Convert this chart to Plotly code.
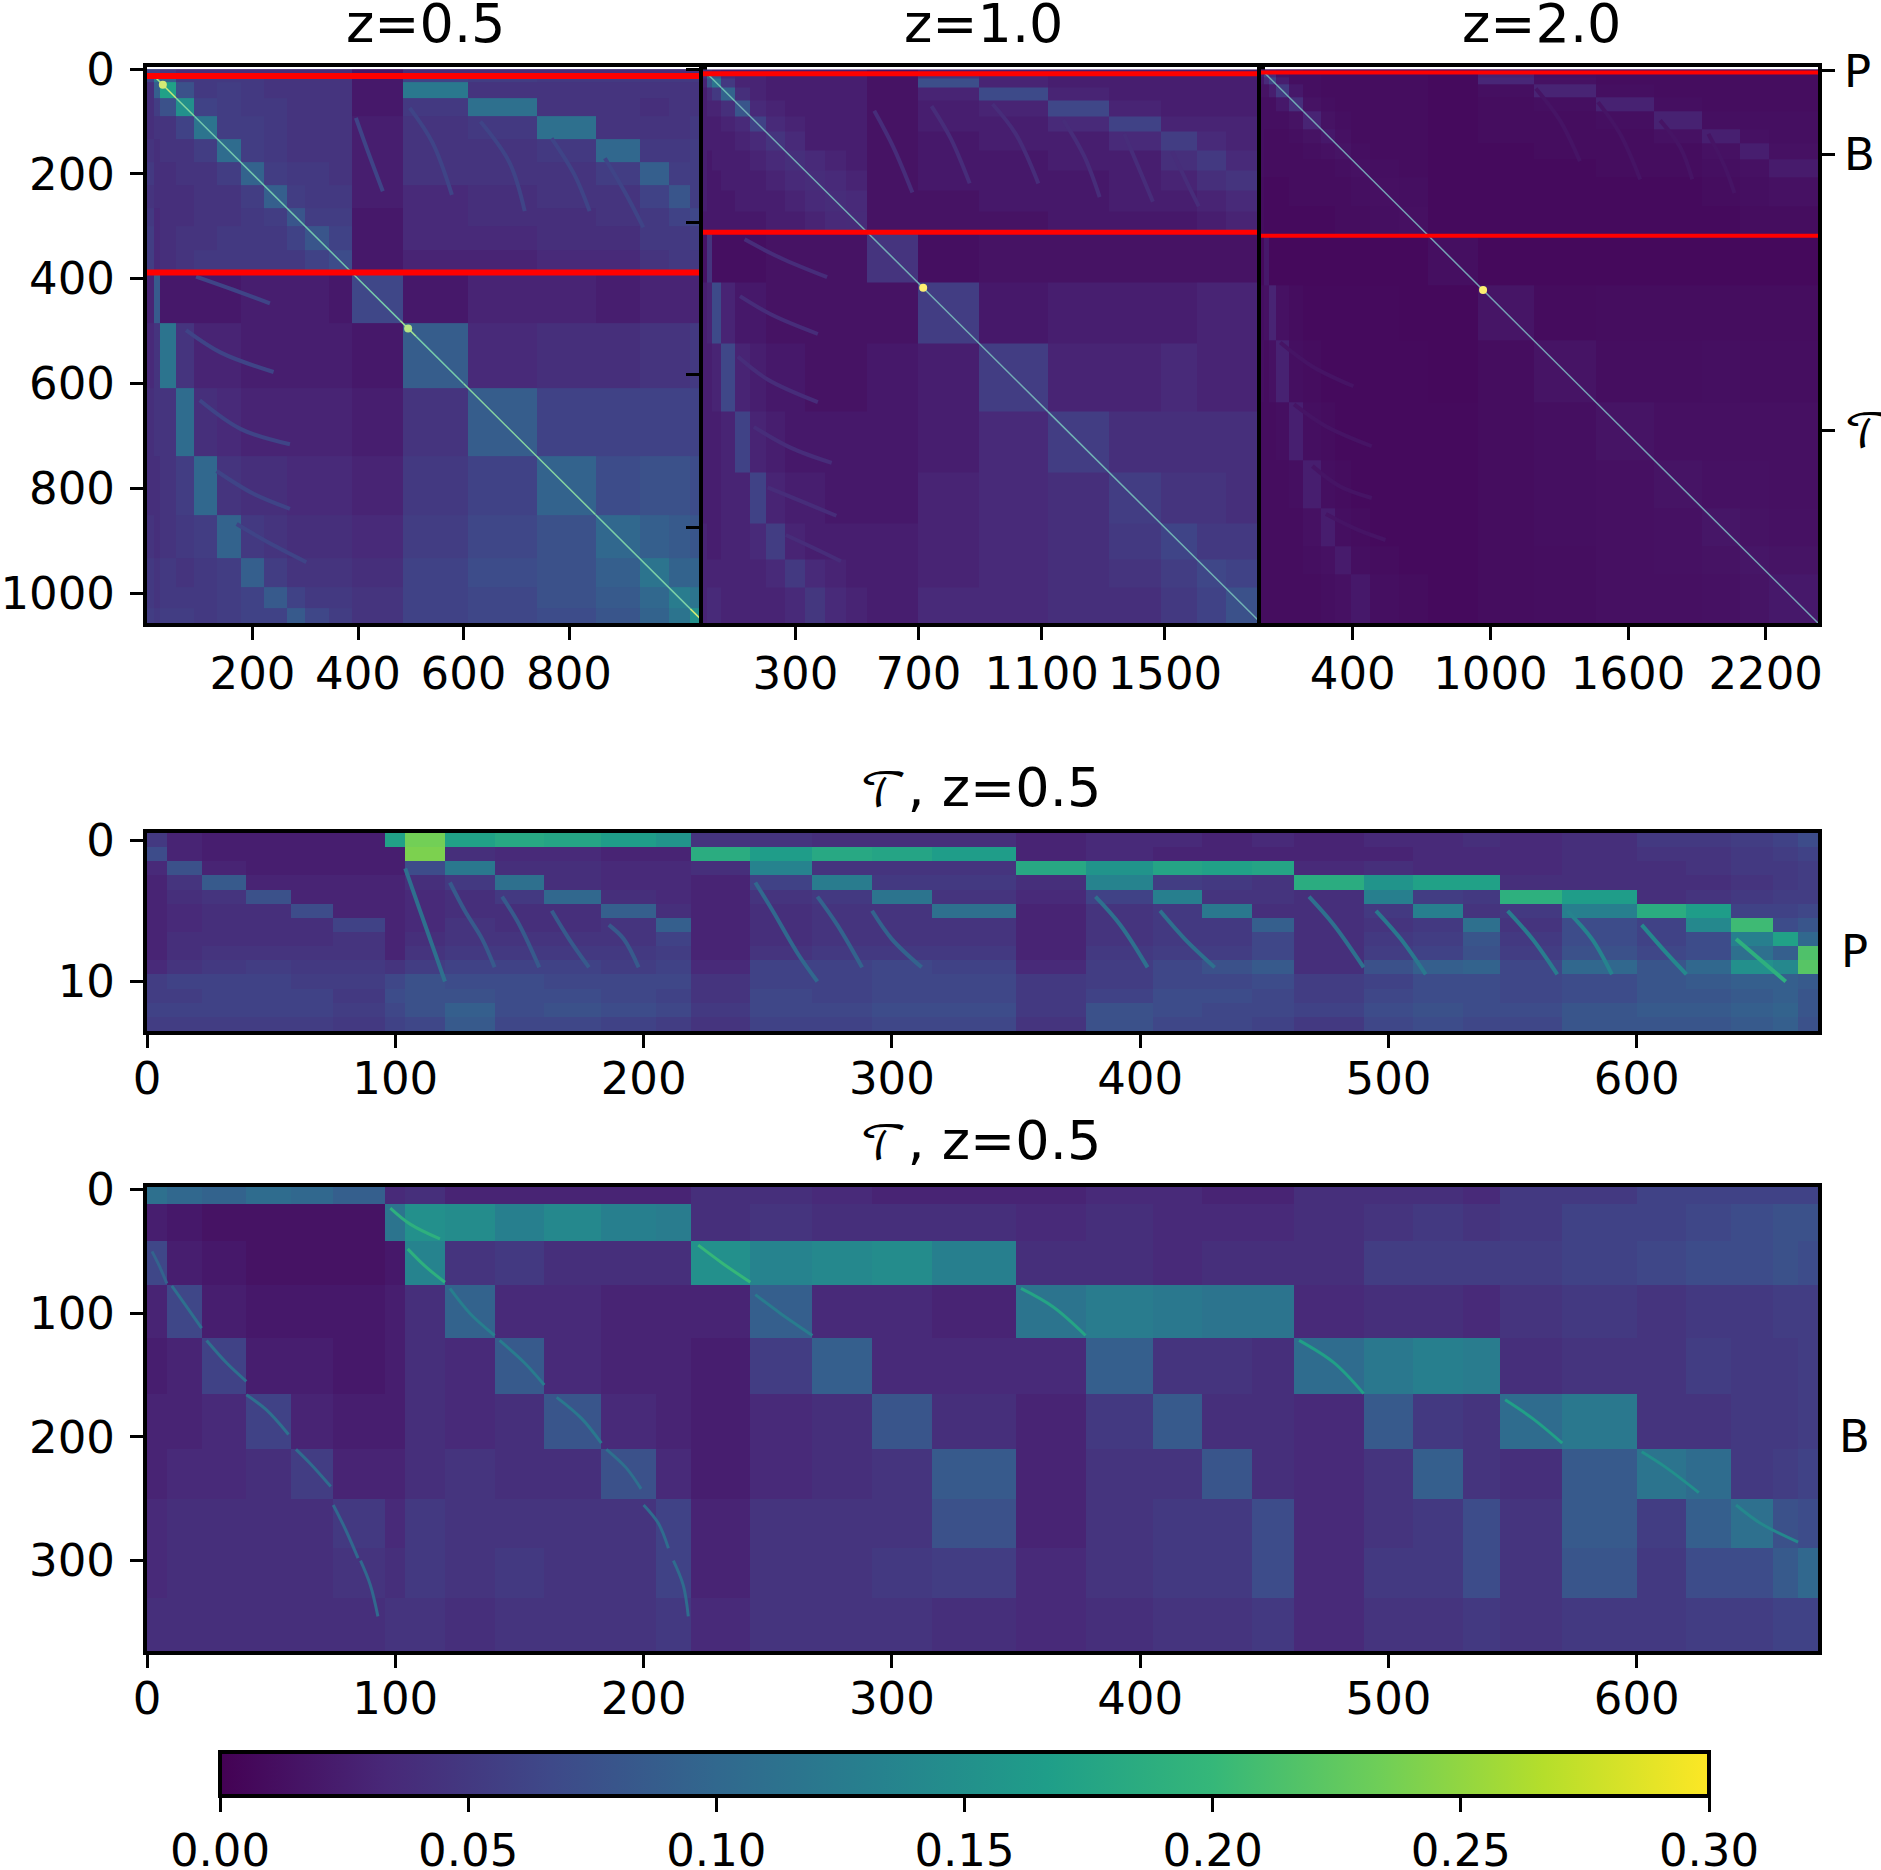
import numpy as np
import plotly.colors as pc
import plotly.graph_objects as go

edges_05 = [0, 14, 25, 55, 90, 133, 178, 222, 265, 300, 345, 388, 485, 608, 739, 851, 934, 989, 1029, 1057]
edges_10 = [0, 14, 28, 60, 103, 153, 203, 265, 330, 395, 465, 533, 698, 897, 1120, 1318, 1486, 1604, 1697, 1812]
edges_20 = [0, 14, 34, 64, 124, 184, 263, 323, 393, 473, 600, 730, 945, 1189, 1461, 1714, 1924, 2090, 2213, 2428]

z_05 = [
    [60, 60, 50, 40, 40, 40, 40, 40, 40, 40, 40, 20, 40, 40, 40, 40, 40, 40, 40],
    [60, 120, 90, 50, 50, 50, 50, 45, 45, 45, 45, 20, 60, 55, 50, 50, 50, 50, 50],
    [40, 90, 170, 75, 50, 55, 50, 45, 45, 45, 45, 20, 120, 45, 45, 45, 45, 45, 45],
    [40, 55, 75, 150, 60, 55, 50, 50, 45, 45, 45, 20, 50, 110, 45, 45, 40, 45, 45],
    [40, 45, 45, 60, 115, 55, 55, 50, 45, 45, 45, 25, 45, 50, 110, 45, 45, 45, 50],
    [45, 40, 45, 45, 55, 105, 55, 50, 45, 45, 45, 25, 45, 45, 50, 100, 50, 50, 55],
    [50, 40, 40, 45, 45, 55, 95, 55, 50, 50, 45, 25, 45, 45, 45, 55, 90, 55, 55],
    [45, 40, 40, 40, 45, 45, 55, 90, 55, 50, 50, 25, 35, 40, 45, 45, 60, 80, 55],
    [50, 35, 40, 40, 45, 45, 50, 55, 80, 55, 55, 20, 35, 40, 40, 45, 50, 60, 65],
    [55, 35, 40, 45, 45, 50, 50, 50, 60, 80, 60, 20, 35, 35, 40, 40, 50, 50, 55],
    [55, 35, 40, 45, 50, 50, 50, 50, 50, 60, 70, 20, 30, 30, 35, 35, 45, 50, 50],
    [30, 85, 20, 20, 20, 20, 25, 25, 25, 25, 20, 65, 20, 30, 30, 25, 30, 30, 30],
    [35, 45, 115, 45, 30, 30, 25, 25, 25, 25, 25, 20, 88, 35, 40, 40, 45, 45, 50],
    [40, 45, 45, 105, 40, 35, 30, 30, 30, 30, 30, 25, 45, 88, 60, 60, 60, 60, 60],
    [40, 40, 45, 55, 100, 45, 40, 40, 35, 35, 35, 30, 50, 60, 95, 70, 75, 75, 70],
    [45, 40, 45, 50, 55, 95, 50, 45, 40, 40, 40, 35, 55, 65, 75, 100, 90, 85, 80],
    [50, 45, 50, 45, 50, 55, 90, 55, 45, 45, 45, 40, 60, 70, 75, 90, 115, 95, 95],
    [50, 45, 50, 50, 50, 55, 60, 85, 60, 50, 50, 45, 60, 65, 75, 85, 100, 125, 115],
    [55, 50, 55, 55, 50, 55, 60, 60, 85, 65, 55, 45, 60, 65, 70, 80, 95, 115, 150],
]

z_10 = [
    [40, 40, 30, 25, 25, 25, 25, 25, 25, 25, 25, 15, 25, 25, 25, 25, 25, 25, 25],
    [40, 110, 80, 35, 30, 30, 25, 25, 25, 25, 25, 15, 45, 30, 25, 25, 25, 25, 25],
    [30, 80, 115, 50, 30, 30, 25, 25, 25, 25, 25, 15, 72, 30, 25, 25, 25, 25, 25],
    [25, 35, 50, 95, 40, 30, 25, 25, 25, 25, 25, 15, 30, 68, 30, 25, 25, 25, 25],
    [25, 30, 30, 40, 80, 35, 30, 25, 25, 25, 25, 15, 25, 30, 65, 30, 25, 25, 25],
    [25, 25, 25, 30, 35, 60, 35, 30, 25, 25, 25, 15, 25, 25, 35, 60, 30, 30, 30],
    [25, 25, 25, 25, 30, 35, 45, 35, 25, 25, 25, 15, 20, 25, 25, 35, 55, 35, 30],
    [25, 20, 25, 25, 25, 30, 35, 40, 35, 30, 25, 15, 20, 20, 25, 25, 40, 50, 35],
    [25, 20, 20, 25, 25, 25, 30, 35, 38, 35, 30, 15, 20, 20, 20, 25, 30, 40, 45],
    [25, 20, 20, 20, 25, 25, 25, 30, 35, 38, 35, 15, 15, 20, 20, 25, 25, 30, 35],
    [20, 20, 20, 20, 20, 20, 25, 25, 30, 35, 36, 15, 15, 15, 20, 20, 20, 25, 30],
    [15, 45, 12, 12, 12, 12, 15, 15, 15, 15, 15, 45, 12, 15, 15, 15, 15, 15, 15],
    [25, 30, 68, 30, 20, 20, 15, 15, 15, 15, 15, 15, 55, 20, 25, 25, 25, 30, 30],
    [25, 25, 30, 65, 30, 25, 20, 20, 15, 15, 15, 20, 25, 55, 30, 30, 35, 30, 30],
    [25, 25, 25, 30, 60, 30, 25, 20, 20, 20, 20, 20, 25, 35, 55, 40, 40, 40, 40],
    [25, 25, 25, 30, 30, 60, 30, 25, 25, 20, 20, 20, 30, 35, 40, 55, 45, 45, 40],
    [30, 25, 25, 30, 30, 35, 55, 30, 25, 25, 25, 25, 30, 35, 40, 50, 62, 50, 50],
    [30, 30, 30, 30, 30, 30, 35, 50, 35, 30, 25, 25, 30, 35, 40, 45, 55, 65, 60],
    [30, 35, 35, 30, 30, 30, 30, 35, 48, 35, 30, 25, 35, 35, 40, 40, 50, 60, 75],
]

z_20 = [
    [25, 25, 20, 15, 15, 12, 12, 12, 12, 10, 10, 8, 14, 12, 12, 12, 12, 12, 12],
    [25, 60, 35, 15, 12, 12, 10, 10, 10, 10, 10, 8, 28, 12, 10, 10, 10, 10, 10],
    [20, 35, 60, 25, 12, 12, 10, 10, 10, 10, 10, 8, 32, 14, 10, 10, 10, 10, 10],
    [15, 15, 25, 50, 20, 12, 10, 10, 10, 10, 10, 8, 12, 30, 12, 10, 10, 10, 10],
    [12, 12, 12, 20, 40, 15, 12, 10, 10, 10, 10, 8, 10, 12, 28, 12, 10, 10, 10],
    [12, 12, 12, 12, 15, 30, 15, 12, 10, 10, 10, 8, 10, 10, 12, 28, 12, 12, 12],
    [12, 10, 10, 10, 12, 15, 20, 14, 10, 10, 10, 8, 10, 10, 10, 14, 26, 14, 12],
    [12, 10, 10, 10, 10, 12, 14, 16, 12, 10, 10, 8, 8, 10, 10, 10, 14, 25, 14],
    [12, 10, 10, 10, 10, 10, 10, 12, 14, 12, 10, 8, 8, 8, 10, 10, 12, 14, 22],
    [10, 8, 8, 8, 10, 10, 10, 10, 12, 13, 12, 8, 8, 8, 8, 8, 10, 12, 14],
    [10, 8, 8, 8, 8, 8, 8, 10, 10, 12, 13, 8, 8, 8, 8, 8, 8, 10, 10],
    [8, 20, 7, 7, 7, 7, 7, 7, 7, 7, 7, 12, 7, 7, 7, 7, 7, 7, 7],
    [12, 14, 30, 14, 10, 8, 8, 8, 8, 8, 7, 7, 17, 9, 10, 10, 10, 10, 10],
    [12, 10, 14, 28, 12, 10, 8, 8, 8, 8, 8, 7, 10, 16, 11, 11, 12, 11, 11],
    [10, 10, 10, 12, 26, 12, 10, 8, 8, 8, 8, 8, 10, 12, 16, 13, 13, 13, 13],
    [10, 10, 10, 10, 12, 25, 12, 10, 8, 8, 8, 8, 10, 12, 13, 16, 14, 14, 13],
    [10, 10, 10, 10, 10, 14, 24, 12, 10, 8, 8, 8, 10, 12, 13, 14, 18, 15, 14],
    [10, 10, 10, 10, 10, 12, 14, 22, 12, 10, 8, 8, 10, 11, 13, 14, 15, 18, 16],
    [10, 10, 10, 10, 10, 10, 12, 14, 20, 12, 10, 8, 10, 11, 13, 13, 14, 16, 20],
]

# diagonal of the three top panels: segment ends and the value on each segment
diag_edges_05 = [14, 30, 55, 90, 388, 480, 510, 600, 850, 1030, 1055]
diag_values_05 = [240, 260, 210, 180, 190, 230, 190, 210, 200, 270]
diag_edges_10 = [14, 60, 103, 533, 1120, 1812]
diag_values_10 = [170, 160, 130, 130, 140]
diag_edges_20 = [14, 184, 730, 2428]
diag_values_20 = [130, 110, 110]

# bright spots on the diagonals
spots_05 = [30, 495]
spot_values_05 = [270, 250]
spots_10 = [715]
spot_values_10 = [300]
spots_20 = [968]
spot_values_20 = [300]

# faint arcs in the top panels, (columns, rows), seen again mirrored below the diagonal
arcs_05 = [
    ([396, 418, 447], [93, 155, 233]),
    ([498, 541, 578], [74, 140, 240]),
    ([632, 687, 716], [100, 178, 271]),
    ([767, 810, 839], [132, 201, 271]),
    ([868, 905, 941], [170, 233, 302]),
]
arcs_10 = [
    ([556, 618, 680], [135, 254, 403]),
    ([742, 804, 866], [120, 225, 373]),
    ([940, 1015, 1089], [113, 210, 373]),
    ([1170, 1238, 1288], [165, 284, 418]),
    ([1368, 1424, 1461], [210, 344, 433]),
    ([1524, 1573, 1610], [269, 373, 448]),
]
arcs_20 = [
    ([1198, 1303, 1390], [84, 224, 403]),
    ([1469, 1565, 1653], [144, 283, 483]),
    ([1740, 1828, 1880], [224, 343, 483]),
    ([1950, 2020, 2064], [283, 423, 543]),
]

# arcs in the two T panels, with the value along each
arcs_tp = [
    ([104, 110, 116, 120], [2, 5, 8, 10], 110),
    ([122, 128, 135, 140], [3, 5, 7, 9], 85),
    ([143, 150, 158], [4, 6, 9], 85),
    ([163, 170, 178], [5, 7, 9], 85),
    ([186, 192, 198], [6, 7, 9], 85),
    ([245, 252, 262, 270], [3, 5, 8, 10], 100),
    ([270, 278, 288], [4, 6, 9], 95),
    ([292, 300, 312], [5, 7, 9], 95),
    ([382, 392, 403], [4, 6, 9], 110),
    ([408, 418, 430], [5, 7, 9], 110),
    ([468, 478, 490], [4, 6, 9], 110),
    ([495, 505, 515], [5, 7, 9.5], 120),
    ([548, 558, 568], [5, 7, 9.5], 125),
    ([572, 582, 590], [5, 7, 9.5], 135),
    ([602, 612, 620], [6, 8, 9.5], 140),
    ([640, 650, 660], [7, 8.5, 10], 190),
]
arcs_tb = [
    ([2, 5, 8], [50, 62, 76], 95),
    ([10, 15, 22], [78, 92, 112], 110),
    ([24, 32, 40], [122, 140, 155], 110),
    ([40, 48, 57], [166, 178, 198], 110),
    ([60, 66, 74], [210, 222, 240], 105),
    ([75, 80, 85], [255, 275, 298], 100),
    ([86, 90, 93], [300, 320, 345], 100),
    ([122, 130, 140], [80, 100, 118], 130),
    ([142, 152, 160], [122, 140, 158], 125),
    ([165, 175, 183], [168, 185, 205], 120),
    ([185, 193, 199], [210, 225, 242], 110),
    ([200, 206, 210], [255, 270, 290], 105),
    ([212, 216, 218], [300, 320, 345], 105),
    ([98, 106, 118], [15, 28, 40], 190),
    ([105, 112, 120], [48, 62, 75], 190),
    ([222, 232, 243], [45, 60, 75], 200),
    ([245, 255, 268], [85, 100, 118], 125),
    ([352, 365, 378], [80, 95, 118], 175),
    ([464, 478, 490], [122, 140, 165], 170),
    ([547, 558, 570], [170, 185, 205], 170),
    ([602, 612, 625], [212, 225, 245], 150),
    ([640, 650, 665], [255, 270, 285], 140),
]

# rows that separate P, B and T
splits_05 = [13, 388]
splits_10 = [14, 533]
splits_20 = [14, 730]

x_ticks_05 = [200, 400, 600, 800]
x_ticks_10 = [300, 700, 1100, 1500]
x_ticks_20 = [400, 1000, 1600, 2200]
y_ticks_05 = [0, 200, 400, 600, 800, 1000]
y_ticks_10 = [0, 500, 1000, 1500]
y_ticks_20 = [7, 372, 1585]

t_ticks = [0, 100, 200, 300, 400, 500, 600]
t_edges = [0, 8, 22, 40, 58, 75, 96, 104, 120, 140, 160, 183, 205, 219, 243, 268, 292, 316, 350, 378,
           405, 425, 445, 462, 490, 510, 530, 545, 570, 600, 620, 638, 655, 665, 673]
p_edges = [-0.5, 0.5, 1.5, 2.5, 3.5, 4.5, 5.5, 6.5, 7.5, 8.5, 9.5, 10.5, 11.5, 12.5, 13.5]
b_edges = [-2, 12, 42, 77, 120, 165, 210, 250, 290, 330, 373]

z_tp = [
    [50, 30, 25, 25, 25, 25, 170, 235, 170, 180, 175, 165, 155, 45, 45, 40, 40, 40, 30, 35, 35, 30, 35, 30, 35, 35, 40, 35, 40, 50, 50, 55, 60, 70],
    [70, 30, 25, 25, 25, 25, 25, 240, 40, 35, 35, 30, 30, 185, 165, 180, 175, 165, 30, 35, 30, 30, 30, 30, 30, 35, 35, 35, 40, 45, 45, 50, 55, 60],
    [35, 75, 30, 25, 25, 25, 25, 70, 120, 40, 40, 35, 35, 40, 135, 45, 45, 45, 180, 155, 175, 170, 175, 35, 40, 35, 35, 35, 40, 40, 45, 50, 50, 55],
    [30, 45, 85, 30, 30, 30, 30, 40, 50, 110, 40, 35, 35, 30, 60, 125, 50, 50, 40, 135, 55, 50, 45, 185, 155, 170, 170, 40, 40, 40, 40, 45, 50, 55],
    [30, 40, 45, 75, 30, 30, 30, 35, 40, 50, 100, 40, 35, 30, 45, 50, 115, 45, 35, 60, 130, 45, 45, 40, 130, 55, 50, 190, 165, 40, 45, 50, 55, 55],
    [30, 35, 40, 40, 70, 30, 30, 35, 40, 40, 40, 90, 40, 30, 40, 45, 45, 110, 30, 45, 50, 120, 40, 40, 50, 130, 45, 50, 130, 185, 165, 60, 60, 65],
    [30, 35, 40, 40, 40, 60, 30, 35, 45, 40, 40, 45, 90, 30, 40, 45, 45, 45, 30, 45, 50, 50, 90, 40, 45, 50, 110, 45, 70, 60, 140, 205, 70, 80],
    [30, 40, 40, 40, 40, 45, 30, 40, 45, 45, 45, 45, 60, 30, 40, 45, 45, 45, 30, 45, 50, 50, 65, 40, 50, 55, 80, 50, 70, 60, 70, 130, 170, 100],
    [30, 40, 45, 45, 45, 45, 30, 45, 50, 50, 50, 50, 55, 30, 45, 50, 50, 50, 30, 50, 55, 55, 65, 40, 55, 60, 75, 55, 75, 65, 70, 110, 90, 215],
    [35, 45, 50, 55, 50, 50, 45, 55, 60, 60, 60, 55, 60, 35, 60, 60, 65, 60, 35, 55, 65, 75, 85, 40, 75, 90, 95, 65, 100, 80, 100, 150, 140, 220],
    [55, 60, 60, 60, 55, 55, 65, 75, 70, 70, 65, 65, 65, 45, 60, 60, 65, 65, 50, 55, 65, 65, 70, 55, 60, 70, 70, 65, 70, 80, 85, 90, 90, 85],
    [55, 55, 60, 60, 60, 50, 70, 75, 75, 70, 70, 65, 60, 45, 65, 60, 65, 65, 50, 60, 70, 70, 65, 55, 65, 70, 70, 65, 70, 80, 80, 85, 90, 80],
    [60, 60, 60, 60, 60, 55, 65, 75, 90, 70, 75, 70, 65, 50, 65, 65, 70, 70, 50, 75, 70, 65, 65, 60, 70, 75, 70, 70, 80, 85, 85, 90, 95, 80],
    [55, 55, 55, 55, 55, 50, 60, 65, 85, 65, 65, 60, 55, 45, 60, 60, 65, 65, 45, 75, 65, 65, 60, 50, 65, 70, 65, 65, 80, 80, 80, 85, 90, 75],
]

z_tb = [
    [110, 100, 95, 105, 100, 90, 35, 40, 30, 30, 30, 30, 30, 40, 40, 35, 30, 30, 30, 35, 35, 30, 30, 40, 40, 40, 35, 50, 50, 60, 60, 60, 60, 60],
    [25, 20, 15, 15, 15, 15, 115, 150, 145, 130, 140, 130, 125, 40, 45, 40, 40, 40, 35, 40, 35, 35, 35, 40, 45, 50, 45, 50, 60, 60, 65, 70, 75, 75],
    [65, 25, 20, 15, 15, 15, 20, 135, 45, 50, 40, 40, 40, 150, 135, 140, 145, 130, 40, 40, 35, 40, 40, 40, 55, 55, 55, 55, 60, 65, 70, 70, 75, 70],
    [30, 65, 25, 20, 20, 20, 25, 40, 95, 35, 35, 30, 30, 30, 90, 35, 35, 30, 115, 125, 120, 115, 115, 35, 40, 40, 35, 45, 50, 45, 50, 50, 55, 55],
    [25, 30, 60, 25, 25, 20, 25, 40, 35, 85, 35, 30, 30, 25, 55, 90, 35, 35, 35, 90, 45, 45, 40, 105, 120, 130, 125, 40, 45, 45, 55, 50, 50, 55],
    [30, 30, 35, 60, 30, 25, 25, 40, 35, 40, 80, 35, 30, 25, 35, 40, 80, 40, 30, 50, 85, 40, 40, 35, 85, 50, 45, 105, 120, 45, 45, 50, 50, 55],
    [30, 35, 35, 40, 55, 30, 30, 40, 45, 40, 40, 75, 35, 25, 35, 40, 45, 85, 30, 45, 45, 80, 40, 35, 45, 90, 45, 40, 85, 115, 105, 50, 55, 60],
    [35, 40, 40, 40, 40, 50, 35, 50, 45, 45, 45, 45, 60, 30, 45, 45, 45, 75, 30, 45, 50, 50, 70, 35, 45, 50, 70, 45, 85, 55, 90, 110, 75, 70],
    [35, 40, 40, 40, 40, 45, 40, 50, 45, 50, 45, 45, 60, 30, 45, 45, 50, 55, 35, 45, 50, 50, 70, 35, 50, 50, 70, 45, 80, 50, 70, 70, 85, 100],
    [40, 40, 40, 40, 40, 40, 45, 45, 40, 45, 45, 45, 50, 35, 45, 45, 45, 40, 35, 40, 45, 45, 50, 35, 45, 45, 50, 45, 50, 50, 55, 55, 60, 60],
]

cbar_ticks = [0.0, 0.05, 0.1, 0.15, 0.2, 0.25, 0.3]

FIG_W = 1881
FIG_H = 1870
FONT = "DejaVu Sans"
TICK_SIZE = 45
TITLE_SIZE = 54
SCRIPT_T = '<span style="font-family:DejaVu Math TeX Gyre;font-size:46px">\U0001D4AF</span>'


def dom_x(left, right):
    return [left / FIG_W, right / FIG_W]


def dom_y(top, bottom):
    return [1 - bottom / FIG_H, 1 - top / FIG_H]


def axis_style(**kwargs):
    return dict(
        showgrid=False,
        zeroline=False,
        showline=True,
        linecolor="black",
        linewidth=4,
        mirror=True,
        ticks="outside",
        ticklen=13,
        tickwidth=3,
        tickcolor="black",
        tickfont=dict(family=FONT, size=TICK_SIZE, color="black"),
        **kwargs
    )


def viridis(value):
    return pc.sample_colorscale("Viridis", min(value / 300, 1))[0]


def pale(value, amount):
    # the thin diagonal reads paler than the colour scale in the reference
    return pc.find_intermediate_color(viridis(value), "rgb(255, 255, 255)", amount, colortype="rgb")


def add_matrix(fig, x, y, z, n):
    fig.add_trace(
        go.Heatmap(
            x=x,
            y=y,
            z=np.array(z) / 1000,
            coloraxis="coloraxis",
            xaxis=f"x{n}",
            yaxis=f"y{n}",
            hoverinfo="skip"
        )
    )


def add_line(fig, x, y, width, color, n, shape="linear"):
    fig.add_trace(
        go.Scatter(
            x=x,
            y=y,
            mode="lines",
            line=dict(width=width, color=color, shape=shape),
            xaxis=f"x{n}",
            yaxis=f"y{n}",
            hoverinfo="skip",
            showlegend=False
        )
    )


def add_top_panel(fig, edges, z, arcs, arc_value, diag_edges, diag_values, spots, spot_values, splits, red_width, n):
    add_matrix(fig, edges, edges, z, n)

    for x, y in arcs:
        add_line(fig, x, y, 4, viridis(arc_value), n, "spline")
        add_line(fig, y, x, 4, viridis(arc_value), n, "spline")

    for i, value in enumerate(diag_values):
        add_line(fig, diag_edges[i:i + 2], diag_edges[i:i + 2], 1.5, pale(value, 0.35), n)

    fig.add_trace(
        go.Scatter(
            x=spots,
            y=spots,
            mode="markers",
            marker=dict(size=8, color=[pale(v, 0.35) for v in spot_values]),
            xaxis=f"x{n}",
            yaxis=f"y{n}",
            hoverinfo="skip",
            showlegend=False
        )
    )

    for row in splits:
        add_line(fig, [0, edges[-1]], [row, row], red_width, "#ff0000", n)


def main():
    fig = go.Figure()

    add_top_panel(fig, edges_05, z_05, arcs_05, 62, diag_edges_05, diag_values_05,
                  spots_05, spot_values_05, splits_05, 6, "")
    add_top_panel(fig, edges_10, z_10, arcs_10, 38, diag_edges_10, diag_values_10,
                  spots_10, spot_values_10, splits_10, 5, 2)
    add_top_panel(fig, edges_20, z_20, arcs_20, 16, diag_edges_20, diag_values_20,
                  spots_20, spot_values_20, splits_20, 4, 3)

    add_matrix(fig, t_edges, p_edges, z_tp, 4)
    for x, y, value in arcs_tp:
        add_line(fig, x, y, 4, viridis(value), 4, "spline")

    add_matrix(fig, t_edges, b_edges, z_tb, 5)
    for x, y, value in arcs_tb:
        add_line(fig, x, y, 3, viridis(value), 5, "spline")

    fig.update_layout(
        width=FIG_W,
        height=FIG_H,
        margin=dict(l=0, r=0, t=0, b=0, autoexpand=False),
        paper_bgcolor="#fff",
        plot_bgcolor="#fff",
        showlegend=False,
        font=dict(family=FONT, color="black"),
        coloraxis=dict(
            colorscale="Viridis",
            cmin=0,
            cmax=0.3,
            colorbar=dict(
                orientation="h",
                x=220 / FIG_W,
                xanchor="left",
                xpad=0,
                y=1 - 1752 / FIG_H,
                yanchor="top",
                ypad=0,
                len=1489 / FIG_W,
                lenmode="fraction",
                thickness=44,
                thicknessmode="pixels",
                outlinecolor="black",
                outlinewidth=4,
                ticks="outside",
                ticklen=14,
                tickwidth=3,
                tickcolor="black",
                tickvals=cbar_ticks,
                tickformat=".2f",
                tickfont=dict(family=FONT, size=TICK_SIZE, color="black")
            )
        ),
        xaxis=axis_style(domain=dom_x(147, 703), range=[0, 1054], anchor="y",
                         tickvals=x_ticks_05, ticklabelstandoff=-5),
        yaxis=axis_style(domain=dom_y(67, 623), range=[1057, -4], anchor="x",
                         tickvals=y_ticks_05, ticklabelstandoff=6),
        xaxis2=axis_style(domain=dom_x(703, 1261), range=[0, 1812], anchor="y2",
                          tickvals=x_ticks_10, ticklabelstandoff=-5),
        yaxis2=axis_style(domain=dom_y(67, 623), range=[1812, -8], anchor="x2",
                          tickvals=y_ticks_10, showticklabels=False),
        xaxis3=axis_style(domain=dom_x(1261, 1818), range=[0, 2428], anchor="y3",
                          tickvals=x_ticks_20, ticklabelstandoff=-5),
        yaxis3=axis_style(domain=dom_y(67, 623), range=[2428, -10], anchor="x3", side="right",
                          tickvals=y_ticks_20, ticktext=["P", "B", SCRIPT_T]),
        xaxis4=axis_style(domain=dom_x(147, 1818), range=[0, 673], anchor="y4",
                          tickvals=t_ticks, ticklabelstandoff=-8),
        yaxis4=axis_style(domain=dom_y(833, 1031), range=[13.5, -0.5], anchor="x4",
                          tickvals=[0, 10], ticklabelstandoff=6),
        xaxis5=axis_style(domain=dom_x(147, 1818), range=[0, 673], anchor="y5",
                          tickvals=t_ticks, ticklabelstandoff=-8),
        yaxis5=axis_style(domain=dom_y(1187, 1651), range=[373, -2], anchor="x5",
                          tickvals=[0, 100, 200, 300], ticklabelstandoff=6)
    )

    titles = [
        ("z=0.5", 425, 24),
        ("z=1.0", 983, 24),
        ("z=2.0", 1541, 24),
        (SCRIPT_T + ", z=0.5", 980, 787),
        (SCRIPT_T + ", z=0.5", 980, 1140)
    ]

    for text, x, y in titles:
        fig.add_annotation(
            text=text,
            x=x / FIG_W,
            y=1 - y / FIG_H,
            xref="paper",
            yref="paper",
            xanchor="center",
            yanchor="middle",
            showarrow=False,
            font=dict(family=FONT, size=TITLE_SIZE, color="black")
        )

    for text, y in [("P", 951), ("B", 1436)]:
        fig.add_annotation(
            text=text,
            x=1854 / FIG_W,
            y=1 - y / FIG_H,
            xref="paper",
            yref="paper",
            xanchor="center",
            yanchor="middle",
            showarrow=False,
            font=dict(family=FONT, size=TICK_SIZE, color="black")
        )

    # the page's default body margin would push the fixed-size figure off its place
    fig.write_html(
        "out.html",
        config=dict(displayModeBar=False),
        post_script="document.body.style.margin = '0';"
    )


if __name__ == "__main__":
    main()
